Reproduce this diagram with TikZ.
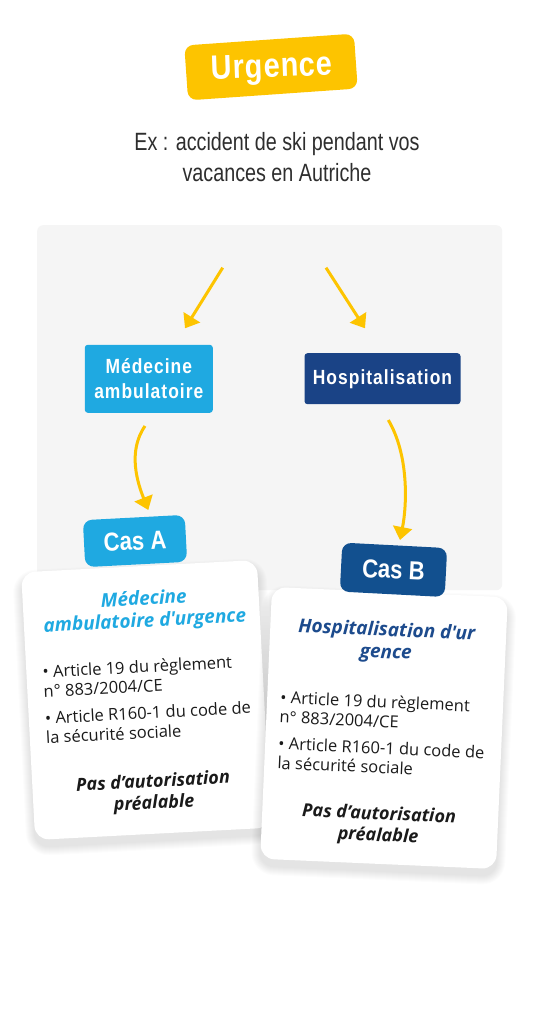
\documentclass[tikz,border=0pt]{standalone}
\usepackage{fontspec}
\usetikzlibrary{arrows.meta}
\newfontfamily\cnd{Liberation Sans}[FakeStretch=0.85]
\newfontfamily\cndn{Liberation Sans}[FakeStretch=0.79]
\newfontfamily\osans{Open Sans}[Ligatures=TeXOff]
\definecolor{yel}{HTML}{FDC400}
\definecolor{lblue}{HTML}{1FA9E1}
\definecolor{dblue}{HTML}{1A4386}
\definecolor{casb}{HTML}{12508F}
\definecolor{titb}{HTML}{1D4B8D}
\definecolor{panelgray}{HTML}{F5F5F5}
\definecolor{subgray}{HTML}{2E2E2E}
\definecolor{cardtext}{HTML}{1A1A1A}
\tikzset{
  yarrow/.style={draw=yel, line width=3pt, -{Triangle[width=19pt,length=13pt]}},
  boxlabel/.style={text=white, align=center, inner sep=0pt,
    font=\cnd\bfseries\fontsize{20.5}{25}\selectfont\addfontfeatures{LetterSpace=5}},
  badge/.style={rounded corners=9pt, inner sep=0pt, text=white,
    font=\cnd\bfseries\fontsize{26}{26}\selectfont},
  card/.style={fill=white, rounded corners=14pt, inner sep=0pt},
  cardtitle/.style={align=center, inner sep=0pt, font=\osans\bfseries\itshape\fontsize{19}{22}\selectfont},
  cardbody/.style={align=left, anchor=west, inner sep=0pt, text=cardtext, font=\osans\fontsize{16.5}{19.5}\selectfont},
  cardfoot/.style={align=center, inner sep=0pt, text=cardtext, font=\osans\bfseries\itshape\fontsize{18}{21.5}\selectfont},
}
\newcommand{\softshadow}[2]{% half width, half height (local coords)
  \foreach \i [evaluate=\i as \r using 14+\i] in {1,...,9}{
    \fill[black, opacity=0.011, rounded corners=\r pt]
      ({-#1-\i},{-#2+7-\i}) rectangle ({#1+\i},{#2+7+\i});
  }}
\begin{document}
\begin{tikzpicture}[x=1pt,y=-1pt]
\useasboundingbox (0,0) rectangle (542,1023);
\fill[white] (0,0) rectangle (542,1023);

% title badge
\node[fill=yel, rounded corners=9pt, minimum width=170pt, minimum height=55pt, rotate=4] (urg) at (271,67) {};
\node[rotate=2, text=white, inner sep=0pt,
  font=\cnd\bfseries\fontsize{34}{34}\selectfont\addfontfeatures{LetterSpace=2.5}] (urgt) at (272,69) {Urgence};

% subtitle
\node[align=center, text=subgray, inner sep=0pt,
  font=\cndn\fontsize{25}{31}\selectfont] (sub) at (277,157)
  {Ex : accident de ski pendant vos\\vacances en Autriche};

% panel
\node[fill=panelgray, rounded corners=6pt, minimum width=465pt, minimum height=365pt, anchor=north west, inner sep=0pt] (panel) at (37,225) {};

% top arrows
\coordinate (a1s) at (222.7,267.7);
\coordinate (a1e) at (185,328.3);
\coordinate (a2s) at (326,267.7);
\coordinate (a2e) at (365,328.3);
\draw[yarrow] (a1s) -- (a1e);
\draw[yarrow] (a2s) -- (a2e);

% boxes
\node[fill=lblue, rounded corners=3pt, minimum width=128pt, minimum height=68pt, boxlabel] (med) at (148.8,378.8) {Médecine\\ambulatoire};
\node[fill=dblue, rounded corners=3pt, minimum width=156pt, minimum height=51pt, boxlabel] (hosp) at (382.5,378.7) {Hospitalisation};

% curved arrows
\coordinate (c1s) at (145,426);
\coordinate (c1e) at (148.3,510);
\coordinate (c2s) at (388.3,420);
\coordinate (c2e) at (400,540);
\draw[yarrow] (c1s) .. controls (127,452) and (138,484) .. (c1e);
\draw[yarrow] (c2s) .. controls (409,455) and (407,505) .. (c2e);

% card A
\begin{scope}[shift={(146,700)}, rotate=3, every node/.append style={transform shape}]
  \softshadow{118}{134}
  \node[card, minimum width=236pt, minimum height=268pt] (cardA) at (0,0) {};
  \node[cardtitle, text=lblue] (titA) at (3,-89) {Médecine\\ambulatoire d'urgence};
  \node[cardbody] (bA1) at (-102,-24) {\textbullet{} Article 19 du règlement\\n° 883/2004/CE};
  \node[cardbody] (bA2) at (-102,22.5) {\textbullet{} Article R160-1 du code de\\la sécurité sociale};
  \node[cardfoot] (fA) at (2.7,93.7) {Pas d’autorisation\\préalable};
\end{scope}

% card B
\begin{scope}[shift={(384,728)}, rotate=-2.5, every node/.append style={transform shape}]
  \softshadow{118}{136}
  \node[card, minimum width=236pt, minimum height=272pt] (cardB) at (0,0) {};
  \node[cardtitle, text=titb] (titB) at (-1.5,-85.7) {Hospitalisation d'ur\\gence};
  \node[cardbody] (bB1) at (-105,-16.5) {\textbullet{} Article 19 du règlement\\n° 883/2004/CE};
  \node[cardbody] (bB2) at (-105,29.6) {\textbullet{} Article R160-1 du code de\\la sécurité sociale};
  \node[cardfoot] (fB) at (-1.2,98) {Pas d’autorisation\\préalable};
\end{scope}

% case badges
\node[badge, fill=lblue, minimum width=102pt, minimum height=47pt, rotate=3] (casA) at (135,541) {Cas A};
\node[badge, fill=casb, minimum width=105pt, minimum height=49pt, rotate=-3] (casB) at (393.5,569.8) {Cas B};
\end{tikzpicture}
\end{document}
